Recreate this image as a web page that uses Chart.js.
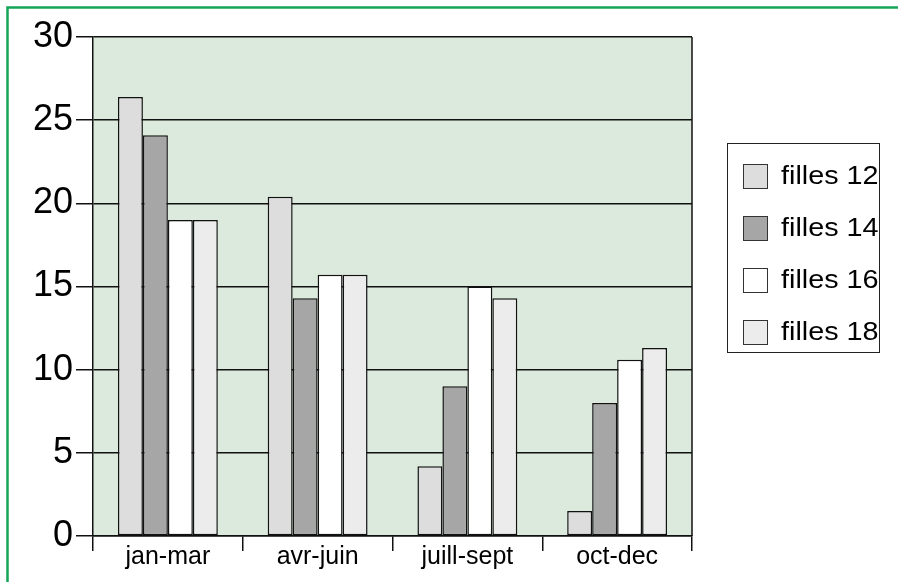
<!DOCTYPE html>
<html>
<head>
<meta charset="utf-8">
<script src="https://cdn.jsdelivr.net/npm/chart.js@4"></script>
<style>
  html, body { margin: 0; padding: 0; background: #fff; }
  #wrap { width: 898px; height: 582px; }
</style>
</head>
<body>
<div id="wrap"><canvas id="chart"></canvas></div>
<script>
  // categories and series
  var categories = ['jan-mar', 'avr-juin', 'juill-sept', 'oct-dec'];
  var seriesNames = ['filles 12', 'filles 14', 'filles 16', 'filles 18'];
  var filles12 = [26.4, 20.4, 4.2, 1.5];
  var filles14 = [24.1, 14.3, 9.0, 8.0];
  var filles16 = [19.0, 15.7, 15.0, 10.6];
  var filles18 = [19.0, 15.7, 14.3, 11.3];
  var colors = ['#dddddd', '#a6a6a6', '#ffffff', '#ececec'];

  var font = "'Liberation Sans', Arial, sans-serif";

  // background of plot, frame, page border and boxed legend
  var decor = {
    id: 'decor',
    beforeDraw: function(chart) {
      var c = chart.ctx, a = chart.chartArea;
      c.save();
      c.fillStyle = '#dceadd';
      c.fillRect(a.left, a.top, a.right - a.left, a.bottom - a.top);
      c.strokeStyle = '#14a558';
      c.lineWidth = 2.5;
      c.beginPath();
      c.moveTo(7.5, 582);
      c.lineTo(7.5, 7.5);
      c.lineTo(898, 7.5);
      c.stroke();
      c.restore();
    },
    afterDraw: function(chart) {
      var c = chart.ctx, a = chart.chartArea;
      c.save();
      c.strokeStyle = '#111';
      c.lineWidth = 1.5;
      c.beginPath();
      c.moveTo(a.right, a.top);
      c.lineTo(a.right, a.bottom);
      c.stroke();
      // legend
      var lx = 727, ly = 143, lw = 152, lh = 209;
      c.lineWidth = 1;
      c.strokeStyle = '#222';
      c.strokeRect(lx + 0.5, ly + 0.5, lw, lh);
      c.textBaseline = 'middle';
      chart.data.datasets.forEach(function(ds, i) {
        var cy = ly + 33 + i * 52;
        c.fillStyle = ds.backgroundColor;
        c.fillRect(743, cy - 12, 24, 24);
        c.strokeStyle = '#333';
        c.lineWidth = 1;
        c.strokeRect(743.5, cy - 11.5, 24, 24);
        c.save();
        c.translate(781, cy + 1);
        c.scale(1.15, 1);
        c.font = '25px ' + font;
        c.fillStyle = '#000';
        c.fillText(ds.label, 0, 0);
        c.restore();
      });
      c.restore();
    }
  };

  var allData = [filles12, filles14, filles16, filles18];
  var datasets = allData.map(function(d, i) {
    return {
      label: seriesNames[i],
      data: d,
      backgroundColor: colors[i],
      borderColor: '#111',
      borderWidth: 1.5,
      borderSkipped: false,
      categoryPercentage: 0.667,
      barPercentage: 1.0
    };
  });

  new Chart(document.getElementById('chart'), {
    type: 'bar',
    data: { labels: categories, datasets: datasets },
    options: {
      responsive: true,
      maintainAspectRatio: false,
      animation: false,
      layout: { padding: { top: 37, right: 206, bottom: 0, left: 0 } },
      plugins: { legend: { display: false }, tooltip: { enabled: false } },
      scales: {
        x: {
          z: 1,
          offset: true,
          grid: {
            offset: true,
            drawOnChartArea: false,
            drawTicks: true,
            tickLength: 15,
            color: '#111',
            lineWidth: 1.5
          },
          border: { color: '#111', width: 1.5 },
          ticks: { color: '#000', font: { family: font, size: 25 }, padding: -9 },
          afterFit: function(scale) { scale.height = 46; }
        },
        y: {
          z: 1,
          min: 0,
          max: 30,
          ticks: { stepSize: 5, color: '#000', font: { family: font, size: 36 }, padding: 3 },
          grid: { color: '#111', lineWidth: 1.5, tickLength: 17 },
          border: { color: '#111', width: 1.5 },
          afterFit: function(scale) { scale.width = 93; }
        }
      }
    },
    plugins: [decor]
  });
</script>
</body>
</html>
